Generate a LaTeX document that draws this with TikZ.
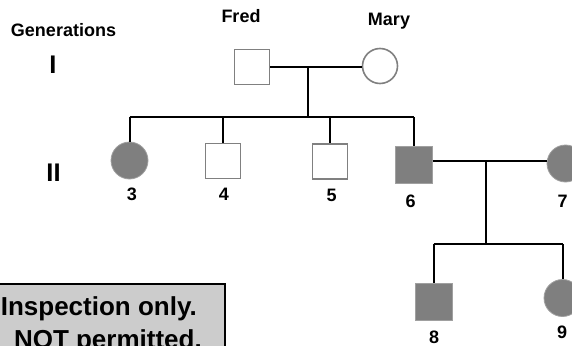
\documentclass[tikz,border=0pt]{standalone}
\usepackage{fontspec}
\setmainfont{Liberation Sans}
\definecolor{shapegray}{HTML}{808080}
\definecolor{affgray}{HTML}{7F7F7F}
\definecolor{affedge}{HTML}{A0A0A0}
\definecolor{boxgray}{HTML}{CCCCCC}
\tikzset{
  male/.style={rectangle, draw=shapegray, line width=1.6pt, fill=white, minimum size=35pt, inner sep=0pt},
  female/.style={circle, draw=shapegray, line width=1.6pt, fill=white, minimum size=35pt, inner sep=0pt},
  affmale/.style={rectangle, draw=affedge, line width=0.8pt, fill=affgray, minimum size=37pt, inner sep=0pt},
  afffemale/.style={circle, draw=affedge, line width=0.8pt, fill=affgray, minimum size=37pt, inner sep=0pt},
  link/.style={line width=2pt, black},
  lbl/.style={font=\bfseries\fontsize{18}{20}\selectfont, anchor=base, inner sep=0pt},
  gen/.style={font=\bfseries\fontsize{25.5}{28}\selectfont, anchor=base, inner sep=0pt},
  boxtxt/.style={font=\bfseries\fontsize{26}{30}\selectfont, anchor=base east, inner sep=0pt},
}
\begin{document}
\begin{tikzpicture}[x=1pt,y=-1pt]
\useasboundingbox (0,0) rectangle (572,345);
\clip (0,0) rectangle (572,345);
% labels
\node[lbl] (gens) at (63.5,37) {Generations};
\node[gen] (g1) at (53,74) {I};
\node[gen] (g2) at (53.5,181.5) {II};
\node[lbl] (fredl) at (241,23) {Fred};
\node[lbl] (maryl) at (389,26) {Mary};
% people
\node[male] (fred) at (252,67) {};
\node[female] (mary) at (380,66) {};
\node[afffemale] (c3) at (129.5,160.5) {};
\node[male] (c4) at (223,161) {};
\node[male] (c5) at (330,161.5) {};
\node[affmale] (c6) at (414,165) {};
\node[afffemale] (c7) at (565.5,163.5) {};
\node[affmale] (c8) at (433.5,302) {};
\node[afffemale] (c9) at (562.5,298) {};
% numbers
\node[lbl] (n3) at (132,200) {3};
\node[lbl] (n4) at (224,200) {4};
\node[lbl] (n5) at (331.5,201) {5};
\node[lbl] (n6) at (410.5,207) {6};
\node[lbl] (n7) at (562.5,207) {7};
\node[lbl] (n8) at (434,343.5) {8};
\node[lbl] (n9) at (562,338) {9};
% connectors
\coordinate (m1) at (308,67);
\coordinate (s1) at (308,117);
\draw[link] (fred.east) -- (fred.east -| mary.west);
\draw[link] (m1) -- (s1);
\draw[link] (c3.north |- s1) -- (c6.north |- s1);
\foreach \c in {c3,c4,c5,c6} \draw[link] (\c.north |- s1) -- (\c.north);
\coordinate (m2) at (486,161);
\coordinate (s2) at (486,244);
\draw[link] (c6.east |- m2) -- (c7.west |- m2);
\draw[link] (m2) -- (s2);
\draw[link] (c8.north |- s2) -- (c9.north |- s2);
\foreach \c in {c8,c9} \draw[link] (\c.north |- s2) -- (\c.north);
% notice box
\draw[fill=boxgray, line width=2pt] (-10,284) rectangle (225,370);
\node[boxtxt] (t1) at (197,315) {Inspection only.};
\node[boxtxt] (t2) at (202,348) {NOT permitted.};
\end{tikzpicture}
\end{document}
